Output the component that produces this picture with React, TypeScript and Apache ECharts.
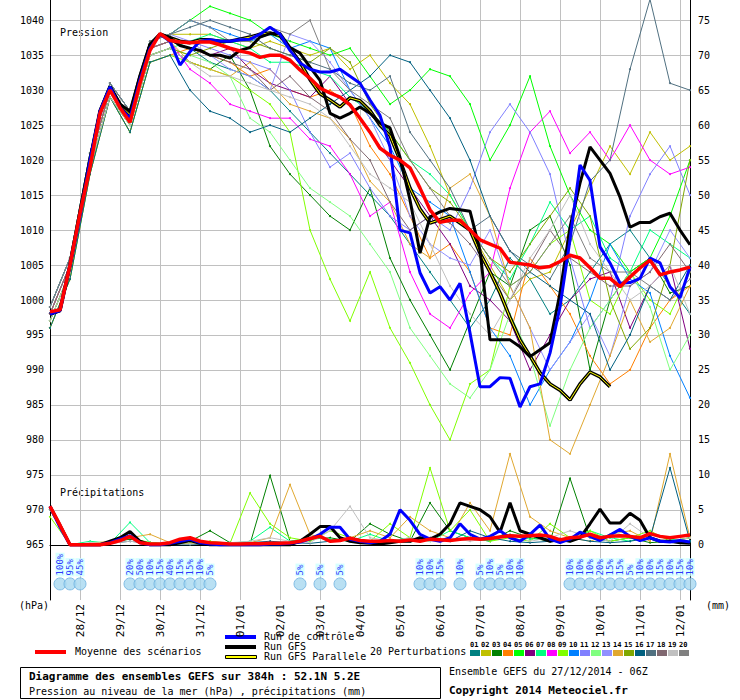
import { useEffect, useRef } from 'react'
import * as echarts from 'echarts'

// 6-hourly steps from 27/12 06Z (65 points), day labels at 00Z
const dayLabels = ['28/12', '29/12', '30/12', '31/12', '01/01', '02/01', '03/01', '04/01', '05/01', '06/01', '07/01', '08/01', '09/01', '10/01', '11/01', '12/01']
const categories = Array.from({ length: 65 }, (_, i) => ((i - 3) % 4 === 0 && i >= 3 ? dayLabels[(i - 3) / 4] : ''))

const pressureTicks = [965, 970, 975, 980, 985, 990, 995, 1000, 1005, 1010, 1015, 1020, 1025, 1030, 1035, 1040]
const precipTicks = [0, 5, 10, 15, 20, 25, 30, 35, 40, 45, 50, 55, 60, 65, 70, 75]

const meanPressure = [998.3, 998.6, 1005, 1012.4, 1019, 1026.7, 1030, 1027.5, 1025.4, 1031, 1035.7, 1038.1, 1037.1, 1036.9, 1036.8, 1036.9, 1036.9, 1036.5, 1036, 1035.6, 1035.3, 1034.7, 1035, 1035, 1034.3, 1032.9, 1031.7, 1030.3, 1029.6, 1029, 1027.9, 1026, 1024, 1021.7, 1020.7, 1020, 1018.9, 1016, 1012.9, 1011.1, 1011.4, 1011.4, 1010, 1008.6, 1008, 1007.4, 1005.4, 1005.2, 1005, 1004.6, 1004.8, 1005.5, 1006.4, 1006, 1004.6, 1003.1, 1003.1, 1001.9, 1003.3, 1004.6, 1005.7, 1003.6, 1004, 1004.3, 1004.7]
const controlPressure = [998, 998.5, 1005, 1012, 1020, 1027, 1030.5, 1027.5, 1026, 1031.5, 1036, 1038, 1037, 1033.6, 1035.5, 1037, 1037.2, 1037, 1037, 1037.2, 1037.3, 1038, 1039, 1038, 1035.7, 1033.9, 1033, 1032.6, 1032.6, 1033, 1032, 1031, 1028.6, 1026.4, 1021.9, 1010, 1009.6, 1003.9, 1001, 1001.9, 1000, 1002.4, 995.3, 987.6, 987.6, 988.9, 988.8, 984.7, 987.6, 988, 992.4, 999, 1008.6, 1019.3, 1017.1, 1007.6, 1005.3, 1002.4, 1002.5, 1003.1, 1006, 1005.3, 1001.9, 1000.3, 1004.7]
const gfsPressure = [998, 998.5, 1005, 1012.5, 1020, 1027, 1030.5, 1028, 1027, 1032, 1036.5, 1038, 1037.5, 1036.4, 1036, 1035.7, 1035, 1035, 1034.6, 1035.7, 1036.1, 1037.6, 1038.1, 1038.1, 1036.1, 1035.3, 1033.3, 1031.4, 1026.7, 1026, 1026.7, 1027.6, 1026.7, 1025.3, 1024.6, 1020.4, 1014.3, 1006.7, 1011.9, 1012.6, 1013.1, 1012.9, 1012.7, 1007.1, 994.3, 994.3, 994.3, 993.3, 991.9, 992.9, 993.9, 1001, 1010.4, 1016.7, 1021.9, 1020, 1018.1, 1014.7, 1010.4, 1011.1, 1011.1, 1011.9, 1012.4, 1010, 1007.9]
const parallelPressure = [998, 998.5, 1005, 1012.5, 1020, 1027, 1030.5, 1028, 1026.5, 1032, 1036.5, 1038, 1037.5, 1037, 1036.8, 1037.2, 1037.2, 1037, 1037, 1037.3, 1037.6, 1038, 1038.2, 1037.8, 1036, 1034, 1031.5, 1029.5, 1028.6, 1027.6, 1028.9, 1028.5, 1027.1, 1025, 1023.5, 1020, 1016, 1013, 1011, 1011.5, 1012, 1011, 1010, 1006.7, 1004, 1001, 997.5, 994.3, 992, 989.6, 988, 987.1, 985.7, 988, 989.7, 989, 987.6]

// 20 perturbations, 12-hourly values (33 points)
const pert01 = [998, 1005, 1020, 1030, 1026, 1036, 1037, 1036, 1034, 1033, 1032, 1030, 1027, 1024, 1021, 1018, 1015, 1012, 1008, 1004, 1000, 996, 1000, 1006, 1003, 998, 1000, 1004, 1008, 1010, 1006, 1002, 998]
const pert02 = [999, 1006, 1021, 1031, 1027, 1037, 1038, 1038, 1038, 1037, 1036, 1037, 1036, 1035, 1036, 1033, 1035, 1031, 1028, 1022, 1015, 1010, 1005, 1000, 1003, 1004, 1010, 1016, 1022, 1018, 1024, 1020, 1022]
const pert03 = [997, 1004, 1019, 1029, 1025, 1035, 1036, 1034, 1033, 1035, 1030, 1022, 1018, 1015, 1012, 1010, 1016, 1006, 1000, 995, 990, 997, 1004, 1002, 1010, 1012, 1005, 990, 1000, 1004, 1006, 1001, 1002]
const pert04 = [996, 1003, 1018, 1029, 1024, 1034, 1035, 1036, 1035, 1034, 1032, 1033, 1030, 1029, 1030, 1028, 1022, 1018, 1012, 1006, 1008, 1004, 996, 995, 1006, 1002, 998, 992, 988, 990, 996, 1000, 1002]
const pert05 = [999, 1006, 1021, 1031, 1027, 1037, 1038, 1040, 1042, 1041, 1040, 1038, 1037, 1036, 1035, 1036, 1032, 1028, 1030, 1033, 1032, 1028, 1020, 1025, 1032, 1022, 1015, 1010, 1008, 1004, 1006, 1012, 1020]
const pert06 = [998, 1005, 1020, 1030, 1026, 1036, 1037, 1036, 1035, 1036, 1033, 1031, 1030, 1029, 1032, 1028, 1024, 1020, 1016, 1012, 1008, 1002, 1000, 997, 990, 995, 1000, 1003, 1004, 996, 1002, 1005, 993]
const pert07 = [997, 1004, 1019, 1029, 1025, 1035, 1036, 1037, 1038, 1037, 1036, 1034, 1034, 1033, 1032, 1029, 1027, 1024, 1020, 1018, 1015, 1010, 1006, 1003, 1008, 1014, 1010, 1012, 1006, 1004, 1010, 1008, 1006]
const pert08 = [998, 1005, 1020, 1030, 1026, 1036, 1037, 1033, 1031, 1028, 1027, 1026, 1026, 1023, 1022, 1018, 1012, 1014, 1004, 998, 996, 1001, 1004, 1016, 1024, 1027, 1021, 1024, 1020, 1025, 1020, 1018, 1019]
const pert09 = [996, 1003, 1018, 1029, 1024, 1034, 1035, 1034, 1033, 1032, 1030, 1028, 1024, 1010, 1003, 997, 1004, 996, 991, 985, 980, 988, 990, 1002, 1004, 1008, 1010, 1000, 998, 1004, 1000, 998, 1004]
const pert10 = [999, 1006, 1021, 1031, 1027, 1037, 1038, 1040, 1039, 1038, 1037, 1038, 1036, 1037, 1036, 1030, 1026, 1022, 1016, 1014, 1012, 1004, 996, 992, 985, 990, 994, 1000, 1008, 1003, 1001, 992, 986]
const pert11 = [998, 1005, 1020, 1030, 1026, 1036, 1037, 1037, 1036, 1035, 1034, 1033, 1030, 1024, 1019, 1021, 1016, 1012, 1010, 1012, 1010, 1016, 1024, 1028, 1024, 1018, 1006, 996, 1000, 1012, 1018, 1022, 1015]
const pert12 = [997, 1004, 1019, 1029, 1025, 1035, 1036, 1035, 1034, 1032, 1026, 1024, 1020, 1016, 1014, 1012, 1008, 1004, 996, 992, 988, 986, 990, 998, 992, 982, 990, 996, 1000, 1004, 999, 990, 995]
const pert13 = [999, 1006, 1021, 1031, 1027, 1037, 1038, 1037, 1035, 1033, 1032, 1030, 1038, 1037, 1034, 1030, 1026, 1020, 1012, 1008, 1006, 1005, 1010, 1002, 996, 990, 994, 998, 992, 1002, 1004, 1010, 1006]
const pert14 = [998, 1005, 1020, 1030, 1026, 1036, 1037, 1034, 1033, 1032, 1034, 1031, 1028, 1027, 1026, 1023, 1017, 1014, 1008, 1006, 1016, 1018, 1012, 1002, 996, 980, 978, 985, 992, 1000, 994, 996, 1002]
const pert15 = [997, 1004, 1019, 1029, 1025, 1035, 1036, 1035, 1036, 1037, 1037, 1036, 1035, 1034, 1036, 1034, 1028, 1024, 1020, 1016, 1014, 1010, 1006, 1004, 1008, 1012, 1016, 1012, 1000, 993, 996, 1005, 1020]
const pert16 = [996, 1003, 1018, 1029, 1024, 1034, 1035, 1030, 1027, 1026, 1024, 1025, 1024, 1026, 1028, 1030, 1032, 1035, 1034, 1030, 1026, 1020, 1012, 1007, 1004, 1002, 1000, 998, 990, 995, 1002, 1000, 1005]
const pert17 = [999, 1006, 1021, 1031, 1027, 1037, 1038, 1039, 1040, 1039, 1038, 1036, 1035, 1034, 1033, 1031, 1030, 1032, 1024, 1020, 1016, 1010, 1012, 1007, 1005, 1003, 1008, 1017, 1020, 1033, 1043, 1031, 1030]
const pert18 = [998, 1005, 1020, 1030, 1026, 1036, 1037, 1036, 1035, 1034, 1033, 1030, 1032, 1029, 1027, 1023, 1020, 1014, 1010, 1012, 1011, 1008, 1004, 1000, 1005, 1010, 1006, 1004, 1002, 1002, 1004, 1008, 1004]
const pert19 = [997, 1004, 1019, 1029, 1025, 1035, 1036, 1034, 1032, 1032, 1031, 1030, 1029, 1028, 1026, 1022, 1018, 1016, 1014, 1008, 1002, 998, 995, 1000, 1006, 1010, 1015, 1008, 1004, 1000, 1002, 1005, 998]
const pert20 = [999, 1006, 1021, 1031, 1027, 1037, 1038, 1040, 1039, 1037, 1037, 1039, 1038, 1040, 1033, 1030, 1028, 1026, 1020, 1016, 1012, 1010, 1006, 1002, 1004, 1008, 1012, 1006, 1004, 1004, 1002, 1000, 1003]
const perturbations = [pert01, pert02, pert03, pert04, pert05, pert06, pert07, pert08, pert09, pert10, pert11, pert12, pert13, pert14, pert15, pert16, pert17, pert18, pert19, pert20]
const pertColors = ['#008080', '#c0c000', '#008000', '#ff8000', '#00ff00', '#800080', '#00ff80', '#ff00ff', '#80ff00', '#0080ff', '#8080ff', '#80ff80', '#9090ff', '#e0a830', '#80a800', '#006080', '#507080', '#806870', '#c0c0c0', '#808080']

// precipitation (mm)
const meanPrecip = [5.5, 2.8, 0, 0, 0, 0, 0.2, 0.6, 1.2, 0.3, 0.1, 0.1, 0.3, 0.8, 1.0, 0.5, 0.3, 0.2, 0.1, 0.1, 0.15, 0.15, 0.2, 0.2, 0.3, 0.5, 0.9, 1.2, 0.5, 0.6, 0.95, 0.6, 0.5, 0.5, 0.6, 0.5, 0.7, 0.5, 0.8, 0.7, 0.6, 0.8, 0.9, 0.8, 0.9, 1.1, 1.3, 1.2, 1.3, 1.4, 1.2, 0.7, 1.0, 1.1, 1.5, 1.0, 1.2, 1.3, 1.2, 1.0, 1.6, 1.2, 1.0, 1.2, 1.4]
const controlPrecip = [5.5, 2.5, 0, 0, 0, 0, 0.3, 0.8, 1.3, 0.3, 0, 0, 0.2, 0.5, 0.8, 0.3, 0.1, 0, 0, 0, 0, 0, 0.1, 0.1, 0.2, 0.4, 0.8, 1.5, 2.5, 2.5, 0.8, 0.5, 0.3, 0.5, 1.5, 5, 3.5, 1.5, 0.8, 0.5, 1, 3, 1.5, 0.8, 1.2, 2, 1, 0.5, 1.5, 2.8, 0.8, 0.3, 0.8, 1.8, 1.2, 0.6, 1.4, 2.2, 1.2, 0.6, 1.0, 0.5, 0.4, 0.6, 0.4]
const gfsPrecip = [5.5, 2.8, 0, 0, 0, 0, 0.5, 1, 1.9, 0.5, 0, 0, 0, 0.3, 0.6, 0.2, 0, 0, 0, 0, 0, 0, 0, 0, 0, 0.5, 1.5, 2.6, 2.6, 1.0, 0.5, 0.3, 0.2, 0.1, 0.3, 0.5, 0.5, 1, 0.8, 1.5, 3, 6, 5.5, 5, 4, 1.8, 6, 2, 1.5, 1, 0.5, 0.8, 0.5, 1, 3, 5.1, 3.1, 3.1, 4.5, 3.5, 1, 0.5, 0.5, 0.3, 0.2]
const pert03Precip = [5, 0, 0, 0.3, 0.8, 0.3, 0.1, 0.5, 2, 0.3, 0.1, 9.9, 0.5, 0.8, 1, 0.5, 3, 1.5, 0.5, 6, 2, 1, 0.5, 2, 1, 0.5, 9.5, 1, 0.5, 1, 0.3, 0.5, 1]
const pert07Precip = [5, 0, 0.5, 0.2, 3.2, 0.3, 0.1, 0.2, 0.3, 0.2, 0.5, 2.5, 0.5, 1, 0.8, 0.5, 1.5, 0.5, 1, 0.5, 2, 1, 0.5, 1.5, 0.8, 1, 0.5, 2, 1, 0.5, 1.5, 0.8, 0.5]
const pert09Precip = [4, 0, 0, 0.3, 1, 0.3, 0.1, 0.2, 0.5, 0.2, 7.4, 3, 1, 0.5, 2, 1, 0.5, 3, 1, 11, 2, 5, 0.5, 1, 0.5, 3, 1, 2, 0.5, 1, 2, 0.5, 1]
const pert14Precip = [5, 0, 0.2, 0.5, 1, 1.5, 0.3, 0.2, 0.1, 0.2, 0.3, 1, 8.6, 1.5, 0.5, 1, 2, 1, 4, 2, 1, 6, 2, 13, 4, 2, 1, 0.5, 1.5, 2, 0.5, 13, 1]
const pert16Precip = [5, 0, 0, 0.2, 0.5, 0.2, 0, 0, 0.1, 0.2, 0.3, 0.5, 0.3, 0.2, 0.5, 1, 0.5, 0.3, 0.5, 1, 0.5, 2, 1, 0.5, 0.3, 0.5, 1, 0.5, 0.3, 0.5, 1, 11, 0.5]
const pert19Precip = [5, 0, 0.3, 0.2, 0.5, 0.2, 0.1, 0.1, 0.2, 0.3, 0.5, 1, 0.5, 0.3, 2, 5.5, 1, 0.5, 1, 0.5, 1, 0.5, 1, 1.5, 0.5, 1, 2, 1, 0.5, 3, 1, 0.5, 1]
const pertPrecip: [number, number[]][] = [[2, pert03Precip], [6, pert07Precip], [8, pert09Precip], [13, pert14Precip], [15, pert16Precip], [18, pert19Precip]]

// probability of snow: step index and percent
const snowSteps = [1, 2, 3, 8, 9, 10, 11, 12, 13, 14, 15, 16, 25, 27, 29, 37, 38, 39, 41, 43, 44, 45, 46, 47, 52, 53, 54, 55, 56, 57, 58, 59, 60, 61, 62, 63, 64]
const snowPercent = [100, 95, 45, 20, 50, 10, 15, 40, 15, 15, 10, 5, 5, 5, 5, 10, 10, 15, 10, 5, 10, 5, 10, 10, 10, 10, 10, 20, 15, 15, 5, 10, 10, 15, 10, 15, 10]

const FONT = 'DejaVu Sans Mono'
const spread = (a: number[]) => a.flatMap((v, i) => (i < a.length - 1 ? [v, null] : [v]))

export default function App() {
  const chartRef = useRef<HTMLDivElement>(null)

  useEffect(() => {
    if (!chartRef.current) return
    document.body.style.margin = '0'
    const chart = echarts.init(chartRef.current, null, { renderer: 'svg' })

    const series: any[] = []
    perturbations.forEach((p, i) => {
      series.push({
        type: 'line', data: spread(p), connectNulls: true, symbol: 'circle', symbolSize: 2,
        lineStyle: { width: 1, color: pertColors[i] }, itemStyle: { color: pertColors[i] }, z: 2,
      })
    })
    pertPrecip.forEach(([ci, p]) => {
      series.push({
        type: 'line', yAxisIndex: 1, data: spread(p), connectNulls: true, symbol: 'circle', symbolSize: 2,
        lineStyle: { width: 1, color: pertColors[ci] }, itemStyle: { color: pertColors[ci] }, z: 2,
      })
    })
    series.push(
      { type: 'line', data: parallelPressure, symbol: 'none', lineStyle: { width: 3.5, color: '#000' }, z: 3 },
      { type: 'line', data: parallelPressure, symbol: 'none', lineStyle: { width: 1, color: '#ffff00' }, z: 3 },
      { type: 'line', data: gfsPressure, symbol: 'none', lineStyle: { width: 3, color: '#000' }, z: 4 },
      { type: 'line', yAxisIndex: 1, data: gfsPrecip, symbol: 'none', lineStyle: { width: 3, color: '#000' }, z: 4 },
      { type: 'line', data: controlPressure, symbol: 'none', lineStyle: { width: 3, color: '#0000ff' }, z: 5 },
      { type: 'line', yAxisIndex: 1, data: controlPrecip, symbol: 'none', lineStyle: { width: 3, color: '#0000ff' }, z: 5 },
      {
        type: 'line', data: meanPressure, symbol: 'none', lineStyle: { width: 3.5, color: '#ff0000' }, z: 6,
        markLine: {
          silent: true, symbol: 'none', label: { show: false },
          lineStyle: { color: '#c0c0c0', type: 'solid', width: 1 },
          data: pressureTicks.map((v) => ({ yAxis: v })),
          z: 0,
        },
      },
      { type: 'line', yAxisIndex: 1, data: meanPrecip, symbol: 'none', lineStyle: { width: 3.5, color: '#ff0000' }, z: 6 },
      {
        type: 'scatter', yAxisIndex: 1, z: 7,
        data: snowSteps.map((s, i) => [s, -5.6, snowPercent[i]]),
        symbol: 'circle', symbolSize: 12,
        itemStyle: { color: '#a8d8f0', borderColor: '#6ab0e0', borderWidth: 1 },
        label: {
          show: true, position: 'top', rotate: 90, align: 'left', verticalAlign: 'middle', distance: 1,
          formatter: (p: any) => p.value[2] + '%', color: '#0000ff', fontFamily: FONT, fontSize: 9,
          backgroundColor: '#ccffff', padding: [0, 1],
        },
      },
    )

    const legendItems = pertColors.map((c, i) => ({
      type: 'group', left: 470 + i * 11, top: 641,
      children: [
        { type: 'text', left: 0, top: 0, style: { text: String(i + 1).padStart(2, '0'), font: `bold 7px "${FONT}"`, fill: '#000' } },
        { type: 'rect', left: 0, top: 9, shape: { width: 10, height: 6 }, style: { fill: c } },
      ],
    }))
    const small = `10px "${FONT}"`

    chart.setOption({
      animation: false,
      grid: { left: 50, top: 0, width: 640, height: 600 },
      xAxis: {
        type: 'category', data: categories, boundaryGap: false,
        axisLine: { lineStyle: { color: '#000', width: 1 } },
        axisTick: { show: false },
        axisLabel: {
          interval: (i: number) => i >= 3 && (i - 3) % 4 === 0, rotate: 90,
          fontFamily: FONT, fontSize: 11, color: '#000', margin: 4,
        },
        splitLine: { show: true, interval: (i: number) => i >= 3 && (i - 3) % 4 === 0, lineStyle: { color: '#c0c0c0' } },
      },
      yAxis: [
        {
          type: 'value', min: 957.1, max: 1042.9, position: 'left',
          axisLine: { show: true, lineStyle: { color: '#000' } }, axisTick: { show: false }, splitLine: { show: false },
          axisLabel: { customValues: pressureTicks, formatter: (v: number) => String(v), fontFamily: FONT, fontSize: 10, color: '#000', margin: 6 },
        },
        {
          type: 'value', min: -7.9, max: 77.9, position: 'right',
          axisLine: { show: true, lineStyle: { color: '#000' } }, axisTick: { show: false }, splitLine: { show: false },
          axisLabel: { customValues: precipTicks, formatter: (v: number) => String(v), fontFamily: FONT, fontSize: 10, color: '#000', margin: 8 },
        },
      ],
      series,
      graphic: [
        { type: 'text', left: 60, top: 27, style: { text: 'Pression', font: small, fill: '#000' } },
        { type: 'text', left: 60, top: 487, style: { text: 'Précipitations', font: small, fill: '#000' } },
        { type: 'text', left: 19, top: 600, style: { text: '(hPa)', font: small, fill: '#000' } },
        { type: 'text', left: 706, top: 600, style: { text: '(mm)', font: small, fill: '#000' } },
        { type: 'rect', left: 35, top: 650, shape: { width: 31, height: 4 }, style: { fill: '#ff0000' } },
        { type: 'text', left: 75, top: 646, style: { text: 'Moyenne des scénarios', font: small, fill: '#000' } },
        { type: 'rect', left: 225, top: 635, shape: { width: 31, height: 4 }, style: { fill: '#0000ff' } },
        { type: 'text', left: 264, top: 631, style: { text: 'Run de contrôle', font: small, fill: '#000' } },
        { type: 'rect', left: 225, top: 645, shape: { width: 31, height: 4 }, style: { fill: '#000' } },
        { type: 'text', left: 264, top: 641, style: { text: 'Run GFS', font: small, fill: '#000' } },
        { type: 'rect', left: 225, top: 655, shape: { width: 31, height: 3 }, style: { fill: '#ffff00', stroke: '#000', lineWidth: 1 } },
        { type: 'text', left: 264, top: 651, style: { text: 'Run GFS Parallele', font: small, fill: '#000' } },
        { type: 'text', left: 370, top: 646, style: { text: '20 Perturbations', font: small, fill: '#000' } },
        ...legendItems,
        { type: 'rect', left: 20, top: 667, shape: { width: 420, height: 31 }, style: { fill: '#fff', stroke: '#000', lineWidth: 1 } },
        { type: 'text', left: 29, top: 671, style: { text: 'Diagramme des ensembles GEFS sur 384h : 52.1N 5.2E', font: `bold 11px "${FONT}"`, fill: '#000' } },
        { type: 'text', left: 29, top: 686, style: { text: 'Pression au niveau de la mer (hPa) , précipitations (mm)', font: small, fill: '#000' } },
        { type: 'text', left: 449, top: 666, style: { text: 'Ensemble GEFS du 27/12/2014 - 06Z', font: small, fill: '#000' } },
        { type: 'text', left: 449, top: 685, style: { text: 'Copyright 2014 Meteociel.fr', font: `bold 11px "${FONT}"`, fill: '#000' } },
      ],
    })

    return () => chart.dispose()
  }, [])

  return <div ref={chartRef} style={{ width: 740, height: 700, background: '#fff' }}></div>
}
